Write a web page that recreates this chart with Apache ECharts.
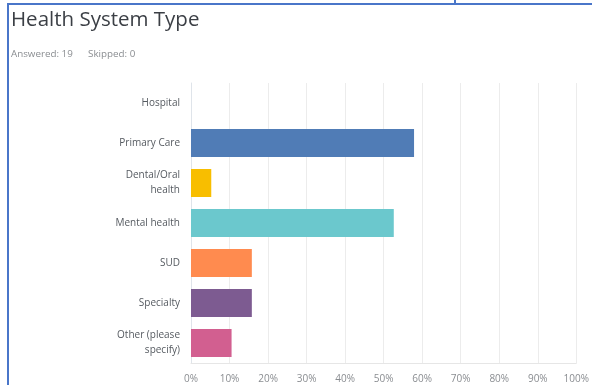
<!DOCTYPE html>
<html>
<head>
<meta charset="utf-8">
<script src="https://cdn.jsdelivr.net/npm/echarts@6/dist/echarts.min.js"></script>
<style>
  html, body { margin: 0; padding: 0; background: #fff; }
  #wrap { position: relative; width: 592px; height: 385px; overflow: hidden; }
  #main { position: absolute; left: 0; top: 0; width: 592px; height: 385px; }
  .edge { position: absolute; background: #4a76c9; }
</style>
</head>
<body>
<div id="wrap">
  <div id="main"></div>
  <div class="edge" style="left:7px;top:3px;width:585px;height:2px;"></div>
  <div class="edge" style="left:7px;top:3px;width:2px;height:382px;"></div>
  <div class="edge" style="left:454px;top:0px;width:2px;height:4px;"></div>
</div>
<script>
var categories = ['Hospital', 'Primary Care', 'Dental/Oral\nhealth', 'Mental health', 'SUD', 'Specialty', 'Other (please\nspecify)'];
var percents = [0, 57.89, 5.26, 52.63, 15.79, 15.79, 10.53];
var barColors = ['#5a7fc0', '#507cb6', '#f8be00', '#6bc8cd', '#ff8b4f', '#7d5b91', '#d25f90'];
var xTicks = [0, 10, 20, 30, 40, 50, 60, 70, 80, 90, 100];

var myChart = echarts.init(document.getElementById('main'));

var option = {
  animation: false,
  title: [
    {
      text: 'Health System Type',
      left: 6,
      top: 5,
      textStyle: { fontFamily: 'Open Sans', fontWeight: 'normal', fontSize: 20.5, color: '#3b3f45' }
    },
    {
      text: 'Answered: 19      Skipped: 0',
      left: 6,
      top: 44,
      textStyle: { fontFamily: 'Open Sans', fontWeight: 'normal', fontSize: 9.8, color: '#8a8d91' }
    }
  ],
  grid: { left: 191, right: 14, top: 83, bottom: 22 },
  xAxis: {
    type: 'value',
    min: 0,
    max: 100,
    interval: 10,
    axisLabel: {
      formatter: function (v) { return xTicks.indexOf(v) >= 0 ? v + '%' : ''; },
      color: '#8a8d91',
      fontFamily: 'Open Sans',
      fontSize: 10,
      margin: 11
    },
    axisLine: { show: true, lineStyle: { color: '#e6e6e6' } },
    axisTick: { show: false },
    splitLine: { lineStyle: { color: '#ececec' } }
  },
  yAxis: {
    type: 'category',
    data: categories,
    inverse: true,
    axisLabel: {
      color: '#555a60',
      fontFamily: 'Open Sans',
      fontSize: 10,
      lineHeight: 15,
      align: 'right',
      margin: 11
    },
    axisLine: { show: true, lineStyle: { color: '#dfe4ea' } },
    axisTick: { show: false }
  },
  series: [
    {
      type: 'bar',
      barWidth: 28,
      data: percents.map(function (v, i) {
        return { value: v, itemStyle: { color: barColors[i] } };
      })
    }
  ]
};

myChart.setOption(option);
window.addEventListener('resize', function () {
  myChart.resize();
});
</script>
</body>
</html>
